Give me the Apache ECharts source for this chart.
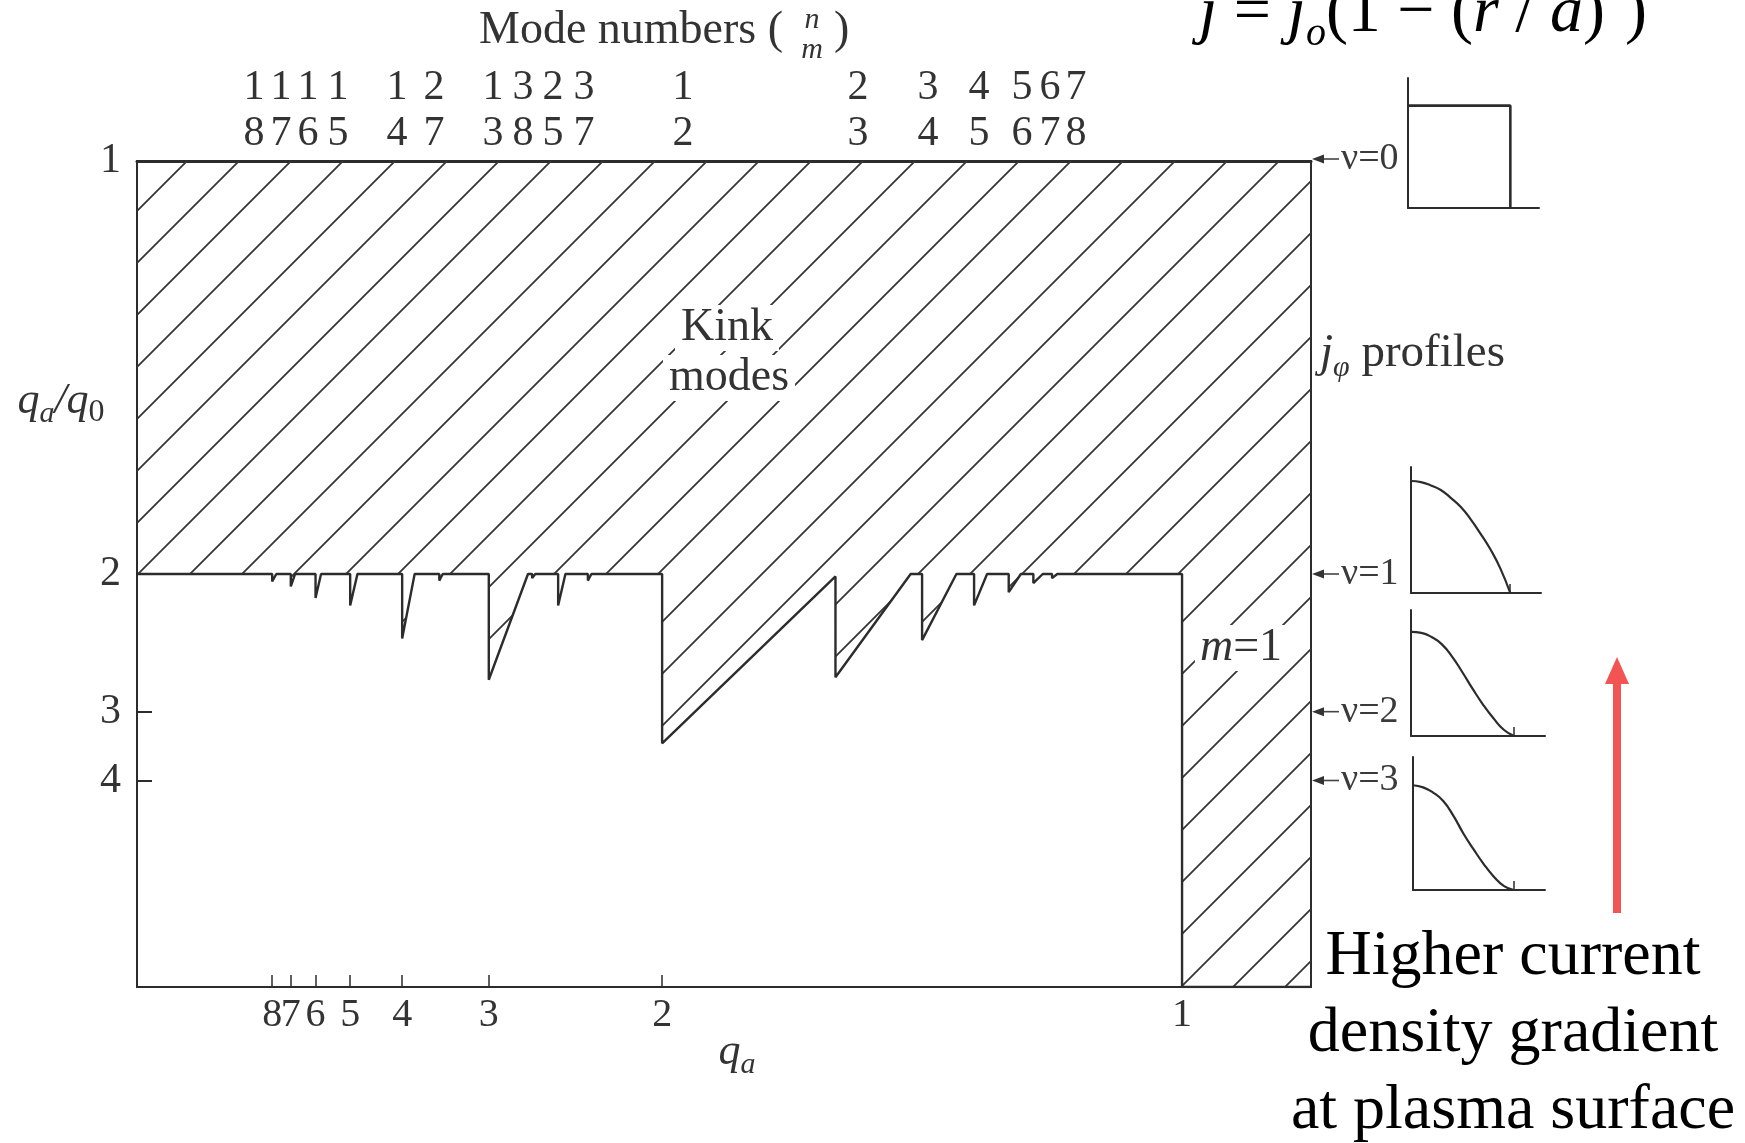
<!DOCTYPE html>
<html>
<head>
<meta charset="utf-8">
<script src="https://cdn.jsdelivr.net/npm/echarts@6/dist/echarts.min.js"></script>
<style>
html,body{margin:0;padding:0;background:#ffffff;}
#chart{width:1745px;height:1143px;}
</style>
</head>
<body>
<div id="chart"></div>
<script>
// ===================== DATA =====================
// Bottom axis: q_a values (plotted at 1/q_a)
const qaTicks = [8, 7, 6, 5, 4, 3, 2, 1];
// Left axis: q_a/q_0 values (plotted at q_0/q_a)
const qRatioLabels = [1, 2, 3, 4];
const qRatioTicks = [3, 4];
// Stability boundary of the kink-unstable (hatched) region, in (1/q_a , q_0/q_a)
const boundaryX = [
  -0.005,
  0.125, 0.125, 0.129,
  0.1429, 0.1429, 0.147,
  0.1667, 0.1667, 0.172,
  0.2, 0.2, 0.207,
  0.25, 0.25, 0.262,
  0.2857, 0.2857, 0.289,
  0.3333, 0.3333, 0.371,
  0.375, 0.375, 0.378,
  0.4, 0.4, 0.407,
  0.4286, 0.4286, 0.432,
  0.5, 0.5, 0.6667,
  0.6667, 0.739,
  0.75, 0.75, 0.783,
  0.8, 0.8, 0.8125,
  0.8333, 0.8333, 0.845,
  0.857, 0.857, 0.866,
  0.875, 0.875, 0.88,
  1, 1, 1.124
];
const boundaryY = [
  0.5,
  0.5, 0.491, 0.5,
  0.5, 0.485, 0.5,
  0.5, 0.471, 0.5,
  0.5, 0.462, 0.5,
  0.5, 0.422, 0.5,
  0.5, 0.492, 0.5,
  0.5, 0.372, 0.5,
  0.5, 0.495, 0.5,
  0.5, 0.462, 0.5,
  0.5, 0.492, 0.5,
  0.5, 0.295, 0.497,
  0.375, 0.5,
  0.5, 0.42, 0.5,
  0.5, 0.462, 0.5,
  0.5, 0.478, 0.5,
  0.5, 0.489, 0.5,
  0.5, 0.495, 0.5,
  0.5, 0, 0
];
// Mode numbers (n over m) written above the frame
const modeN = [1, 1, 1, 1, 1, 2, 1, 3, 2, 3, 1, 2, 3, 4, 5, 6, 7];
const modeM = [8, 7, 6, 5, 4, 7, 3, 8, 5, 7, 2, 3, 4, 5, 6, 7, 8];
// nu labels and the q_a/q_0 value they point at
const nuNames = ['ν=0', 'ν=1', 'ν=2', 'ν=3'];
const nuRatio = [1, 2, 3, 4];
// current profiles j/j0 versus r/a
const profileR = [0, 0.1, 0.2, 0.3, 0.4, 0.5, 0.6, 0.7, 0.8, 0.9, 1.0];
const jNu0 = [[0, 1], [1, 1], [1, 0]];
const jNu1 = [1, 0.99, 0.96, 0.92, 0.85, 0.77, 0.66, 0.53, 0.39, 0.22, 0];
const jNu2 = [1, 0.99, 0.95, 0.88, 0.76, 0.61, 0.45, 0.30, 0.17, 0.06, 0];
const jNu3 = [1, 0.98, 0.93, 0.85, 0.71, 0.54, 0.39, 0.25, 0.13, 0.04, 0];

// ===================== LAYOUT =====================
const X_MIN = -0.005, X_MAX = 1.124;
const FONT = '"Liberation Serif", "DejaVu Serif", serif';
const INK = '#2c2c2c';
const TXT = '#333333';
const modeLabelX = [254, 281, 308, 338, 397, 434, 493, 523, 553, 584, 683, 858, 928, 979, 1022, 1050, 1076];
const miniGrids = [
  {left: 1408, top: 78,  width: 131, height: 130, xMax: 1.28, yMax: 1.27},
  {left: 1411, top: 467, width: 130, height: 126, xMax: 1.31, yMax: 1.125},
  {left: 1411, top: 610, width: 134, height: 126, xMax: 1.30, yMax: 1.21},
  {left: 1413, top: 757, width: 132, height: 133, xMax: 1.31, yMax: 1.27}
];

// hatch pattern: 45 degree lines, 52 px horizontal pitch
function makeHatch() {
  const s = 52, c = document.createElement('canvas');
  c.width = s; c.height = s;
  const g = c.getContext('2d');
  g.strokeStyle = '#363636';
  g.lineWidth = 1.8;
  g.beginPath();
  [36, 88].forEach(function (cc) {
    g.moveTo(cc + 6, -6);
    g.lineTo(-6, cc + 6);
  });
  g.stroke();
  return c;
}
const hatch = makeHatch();

const chart = echarts.init(document.getElementById('chart'), null, {renderer: 'canvas', width: 1745, height: 1143});

const grids = [{left: 137, top: 161, width: 1174, height: 826, show: true, borderColor: INK, borderWidth: 2, backgroundColor: 'transparent', outerBoundsMode: 'none'}]
  .concat(miniGrids.map(function (g) { return {left: g.left, top: g.top, width: g.width, height: g.height, outerBoundsMode: 'none'}; }));

// a leading value placed exactly on the axis start (invisible) guards the first real tick
const xTickVals = [X_MIN].concat(qaTicks.map(function (q) { return 1 / q; }));
const yTickVals = [0].concat(qRatioTicks.map(function (v) { return 1 / v; }));
const yLabelVals = [0].concat(qRatioLabels.map(function (v) { return 1 / v; }));

const xAxes = [
  {
    gridIndex: 0, type: 'value', min: X_MIN, max: X_MAX, position: 'bottom',
    axisLine: {show: true, onZero: false, lineStyle: {color: INK, width: 2}},
    axisTick: {show: true, inside: true, length: 12, lineStyle: {color: INK, width: 1.5}, customValues: xTickVals},
    axisLabel: {show: true, margin: 8, color: TXT, fontSize: 40, fontFamily: FONT, hideOverlap: false,
      showMinLabel: true, showMaxLabel: true, customValues: xTickVals,
      formatter: function (v) { return v > 0 ? String(Math.round(1 / v)) : ''; }},
    splitLine: {show: false}
  },
  {
    gridIndex: 0, type: 'value', min: X_MIN, max: X_MAX, position: 'top',
    axisLine: {show: true, onZero: false, lineStyle: {color: INK, width: 3}},
    axisTick: {show: false}, axisLabel: {show: false}, splitLine: {show: false}
  }
].concat(miniGrids.map(function (g, i) {
  return {
    gridIndex: i + 1, type: 'value', min: 0, max: g.xMax,
    axisLine: {show: true, onZero: false, lineStyle: {color: INK, width: 2}},
    axisTick: {show: i > 0, inside: true, length: 9, customValues: [0, 1], lineStyle: {color: INK, width: 1.5}},
    axisLabel: {show: false}, splitLine: {show: false}
  };
}));

const yAxes = [
  {
    gridIndex: 0, type: 'value', min: 0, max: 1,
    axisLine: {show: true, onZero: false, lineStyle: {color: INK, width: 2}},
    axisTick: {show: true, inside: true, length: 15, lineStyle: {color: INK, width: 2}, customValues: yTickVals},
    axisLabel: {show: true, margin: 16, color: TXT, fontSize: 42, fontFamily: FONT, hideOverlap: false,
      showMinLabel: true, showMaxLabel: true, customValues: yLabelVals,
      formatter: function (v) { return v > 0 ? String(Math.round(1 / v)) : ''; }},
    splitLine: {show: false}
  }
].concat(miniGrids.map(function (g, i) {
  return {
    gridIndex: i + 1, type: 'value', min: 0, max: g.yMax,
    axisLine: {show: true, onZero: false, lineStyle: {color: INK, width: 2}},
    axisTick: {show: false}, axisLabel: {show: false}, splitLine: {show: false}
  };
}));

const series = [
  {
    type: 'line', name: 'kink boundary', xAxisIndex: 0, yAxisIndex: 0,
    data: boundaryX.map(function (x, i) { return [x, boundaryY[i]]; }),
    symbol: 'none', smooth: false, z: 3,
    lineStyle: {color: INK, width: 2.4},
    areaStyle: {origin: 'end', opacity: 1, color: {image: hatch, repeat: 'repeat'}}
  },
  {
    type: 'custom', name: 'nu arrows', coordinateSystem: 'cartesian2d', xAxisIndex: 0, yAxisIndex: 0,
    clip: false, silent: true, z: 6,
    data: nuRatio.map(function (r, i) { return [X_MAX, 1 / r, i]; }),
    renderItem: function (params, api) {
      const p = api.coord([api.value(0), api.value(1)]);
      const x0 = p[0] + 1, y = p[1] - (api.value(2) === 0 ? 2 : 0);
      return {
        type: 'group',
        children: [
          {type: 'line', shape: {x1: x0 + 8, y1: y, x2: x0 + 27, y2: y}, style: {stroke: '#444', lineWidth: 1.6}},
          {type: 'polygon', shape: {points: [[x0, y], [x0 + 12, y - 4.5], [x0 + 12, y + 4.5]]}, style: {fill: '#333'}},
          {type: 'text', style: {text: nuNames[api.value(2)], x: x0 + 29, y: y,
            align: 'left', verticalAlign: 'middle', textAlign: 'left', textVerticalAlign: 'middle',
            fontSize: 38, fontFamily: FONT, fill: '#3a3a3a'}}
        ]
      };
    }
  }
];
const profiles = [jNu0, jNu1, jNu2, jNu3];
profiles.forEach(function (prof, i) {
  const data = (i === 0) ? prof : profileR.map(function (r, k) { return [r, prof[k]]; });
  series.push({
    type: 'line', name: 'profile ν=' + i, xAxisIndex: i + 2, yAxisIndex: i + 1,
    data: data, symbol: 'none', smooth: i === 0 ? false : 0.5,
    lineStyle: {color: INK, width: i === 0 ? 2.6 : 2.2}, z: 3
  });
});

// ===================== TEXT ANNOTATIONS =====================
const graphics = [];
function txt(o) { o.z = 100; graphics.push(o); }
txt({type: 'text', x: 479, y: 31, style: {text: 'Mode numbers (', fontSize: 46, fontFamily: FONT, fill: TXT, align: 'left', verticalAlign: 'middle', textAlign: 'left', textVerticalAlign: 'middle'}});
txt({type: 'text', x: 812, y: 20, style: {text: 'n', fontSize: 30, fontStyle: 'italic', fontFamily: FONT, fill: TXT, align: 'center', verticalAlign: 'middle', textAlign: 'center', textVerticalAlign: 'middle'}});
txt({type: 'text', x: 812, y: 50, style: {text: 'm', fontSize: 30, fontStyle: 'italic', fontFamily: FONT, fill: TXT, align: 'center', verticalAlign: 'middle', textAlign: 'center', textVerticalAlign: 'middle'}});
txt({type: 'text', x: 834, y: 31, style: {text: ')', fontSize: 46, fontFamily: FONT, fill: TXT, align: 'left', verticalAlign: 'middle', textAlign: 'left', textVerticalAlign: 'middle'}});
modeN.forEach(function (n, i) {
  txt({type: 'text', x: modeLabelX[i], y: 88, style: {text: String(n), fontSize: 42, fontFamily: FONT, fill: TXT, align: 'center', verticalAlign: 'middle', textAlign: 'center', textVerticalAlign: 'middle'}});
  txt({type: 'text', x: modeLabelX[i], y: 134, style: {text: String(modeM[i]), fontSize: 42, fontFamily: FONT, fill: TXT, align: 'center', verticalAlign: 'middle', textAlign: 'center', textVerticalAlign: 'middle'}});
});
txt({type: 'text', x: 727, y: 328, style: {text: 'Kink', fontSize: 46, fontFamily: FONT, fill: TXT, align: 'center', verticalAlign: 'middle', textAlign: 'center', textVerticalAlign: 'middle', backgroundColor: '#ffffff', padding: [0, 6, 0, 6]}});
txt({type: 'text', x: 729, y: 378, style: {text: 'modes', fontSize: 46, fontFamily: FONT, fill: TXT, align: 'center', verticalAlign: 'middle', textAlign: 'center', textVerticalAlign: 'middle', backgroundColor: '#ffffff', padding: [0, 6, 0, 6]}});
txt({type: 'text', x: 1241, y: 648, style: {text: '{i|m}{r|=1}', align: 'center', verticalAlign: 'middle', textAlign: 'center', textVerticalAlign: 'middle', backgroundColor: '#ffffff', padding: [0, 5, 0, 5],
  rich: {i: {fontSize: 46, fontStyle: 'italic', fontFamily: FONT, fill: TXT}, r: {fontSize: 46, fontFamily: FONT, fill: TXT}}}});
txt({type: 'text', x: 1320, y: 354, style: {text: '{i|j}{s|φ}{r| profiles}', align: 'left', verticalAlign: 'middle', textAlign: 'left', textVerticalAlign: 'middle',
  rich: {i: {fontSize: 47, fontStyle: 'italic', fontFamily: FONT, fill: TXT, lineHeight: 58},
         s: {fontSize: 30, fontStyle: 'italic', fontFamily: FONT, fill: TXT, lineHeight: 28, verticalAlign: 'bottom'},
         r: {fontSize: 47, fontFamily: FONT, fill: TXT, lineHeight: 58}}}});
txt({type: 'text', x: 61, y: 401, style: {text: '{i|q}{s|a}{i|/q}{t|0}', align: 'center', verticalAlign: 'middle', textAlign: 'center', textVerticalAlign: 'middle',
  rich: {i: {fontSize: 44, fontStyle: 'italic', fontFamily: FONT, fill: TXT, lineHeight: 56},
         s: {fontSize: 30, fontStyle: 'italic', fontFamily: FONT, fill: TXT, lineHeight: 30, verticalAlign: 'bottom'},
         t: {fontSize: 32, fontFamily: FONT, fill: TXT, lineHeight: 36, verticalAlign: 'bottom'}}}});
txt({type: 'text', x: 737, y: 1052, style: {text: '{i|q}{s|a}', align: 'center', verticalAlign: 'middle', textAlign: 'center', textVerticalAlign: 'middle',
  rich: {i: {fontSize: 44, fontStyle: 'italic', fontFamily: FONT, fill: TXT, lineHeight: 56},
         s: {fontSize: 30, fontStyle: 'italic', fontFamily: FONT, fill: TXT, lineHeight: 30, verticalAlign: 'bottom'}}}});

// formula at the top (partly cut by the page edge), laid out piece by piece
const mctx = document.createElement('canvas').getContext('2d');
function textWidth(str, size, italic) {
  mctx.font = (italic ? 'italic ' : '') + size + 'px "Liberation Serif"';
  return mctx.measureText(str).width;
}
const formulaPieces = [
  {t: 'j', it: true, s: 66, y: 14},
  {t: ' = ', it: false, s: 66, y: 14},
  {t: 'j', it: true, s: 66, y: 14},
  {t: 'o', it: true, s: 40, y: 34},
  {t: '(1 − (', it: false, s: 66, y: 14},
  {t: 'r', it: true, s: 66, y: 14},
  {t: ' / ', it: false, s: 66, y: 14},
  {t: 'a', it: true, s: 66, y: 14},
  {t: ')', it: false, s: 66, y: 14},
  {t: '2', it: false, s: 40, y: -24},
  {t: ')', it: false, s: 66, y: 14},
  {t: 'ν', it: true, s: 40, y: -24}
];
let fx = 1199;
formulaPieces.forEach(function (p) {
  txt({type: 'text', x: fx, y: p.y, style: {text: p.t, fontSize: p.s, fontStyle: p.it ? 'italic' : 'normal', fontFamily: FONT, fill: '#000',
    align: 'left', verticalAlign: 'middle', textAlign: 'left', textVerticalAlign: 'middle'}});
  fx += textWidth(p.t, p.s, p.it);
});

// red arrow and note
graphics.push({type: 'line', z: 100, shape: {x1: 1617, y1: 913, x2: 1617, y2: 678}, style: {stroke: '#f25454', lineWidth: 8}});
graphics.push({type: 'polygon', z: 100, shape: {points: [[1617, 657], [1605, 684], [1629, 684]]}, style: {fill: '#f25454'}});
txt({type: 'text', x: 1513, y: 1034, style: {text: 'Higher current\ndensity gradient\nat plasma surface', fontSize: 64, lineHeight: 77, fontFamily: FONT, fill: '#000000',
  align: 'center', verticalAlign: 'middle', textAlign: 'center', textVerticalAlign: 'middle'}});

chart.setOption({
  animation: false,
  backgroundColor: '#ffffff',
  grid: grids,
  xAxis: xAxes,
  yAxis: yAxes,
  series: series,
  graphic: {elements: graphics}
});
</script>
</body>
</html>
